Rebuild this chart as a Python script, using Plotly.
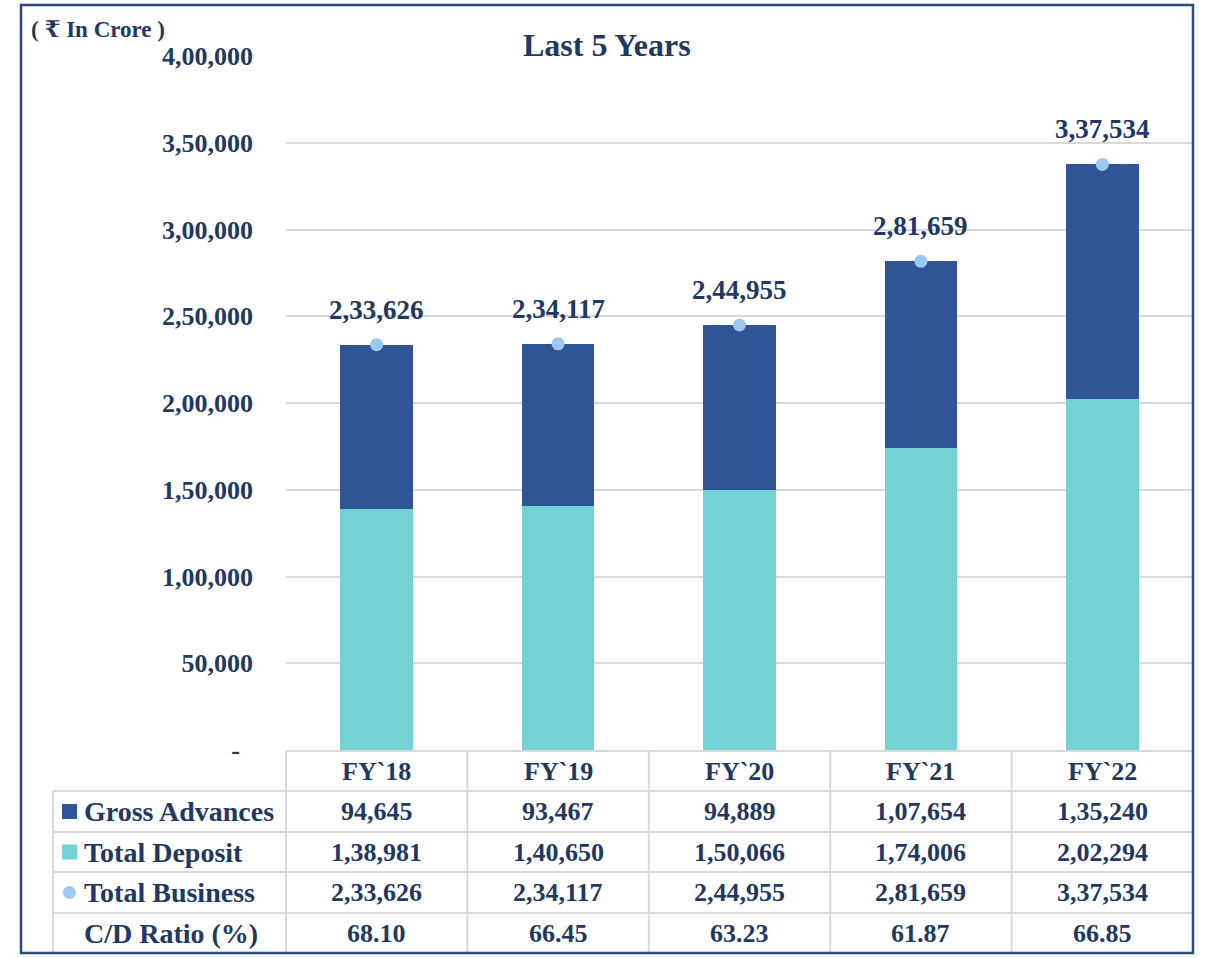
import plotly.graph_objects as go

# ---- data (₹ in crore) ----
years = ["FY`18", "FY`19", "FY`20", "FY`21", "FY`22"]
gross_advances = [94645, 93467, 94889, 107654, 135240]
total_deposit = [138981, 140650, 150066, 174006, 202294]
total_business = [233626, 234117, 244955, 281659, 337534]
cd_ratio = [68.10, 66.45, 63.23, 61.87, 66.85]
y_ticks = [0, 50000, 100000, 150000, 200000, 250000, 300000, 350000, 400000]

# ---- styling ----
W, H = 1206, 958
NAVY_TXT = "#1F3864"
BORDER = "#2E4A7D"
ADV_COL = "#2F5597"
DEP_COL = "#72D2D4"
BUS_COL = "#9DC8F0"
GRID = "#D9D9D9"
FONT = "Liberation Serif, DejaVu Serif, serif"

# plot area in pixels
PX0, PX1 = 286, 1193
PY_TOP, PY_BOT = 56, 750


def px(x):
    return x / W


def py(y):
    return 1 - y / H


def inr(v):
    """Indian digit grouping: 233626 -> 2,33,626."""
    s = str(int(round(v)))
    if len(s) <= 3:
        return s
    head, tail = s[:-3], s[-3:]
    groups = []
    while len(head) > 2:
        groups.insert(0, head[-2:])
        head = head[:-2]
    if head:
        groups.insert(0, head)
    return ",".join(groups + [tail])


tick_text = [inr(v) if v else "-\u00a0\u00a0" for v in y_ticks]

fig = go.Figure()

fig.add_trace(go.Bar(
    x=list(range(len(years))), y=total_deposit, name="Total Deposit",
    marker=dict(color=DEP_COL, line=dict(width=0)), width=0.4,
))
fig.add_trace(go.Bar(
    x=list(range(len(years))), y=gross_advances, name="Gross Advances",
    marker=dict(color=ADV_COL, line=dict(width=0)), width=0.4,
))
fig.add_trace(go.Scatter(
    x=list(range(len(years))), y=total_business, name="Total Business",
    mode="markers", marker=dict(color=BUS_COL, size=13),
))

annotations = []

# value labels above the total business markers
for i, v in enumerate(total_business):
    annotations.append(dict(
        x=i, y=v, xref="x", yref="y", text=inr(v), showarrow=False,
        yanchor="bottom", yshift=18,
        font=dict(family=FONT, size=27, color=NAVY_TXT, weight="bold"),
    ))

# title and unit
annotations.append(dict(
    x=px(607), y=py(45), xref="paper", yref="paper", text="Last 5 Years",
    showarrow=False, xanchor="center", yanchor="middle",
    font=dict(family=FONT, size=32, color=NAVY_TXT, weight="bold"),
))
annotations.append(dict(
    x=px(29), y=py(30), xref="paper", yref="paper", text="( ₹ In Crore )",
    showarrow=False, xanchor="left", yanchor="middle",
    font=dict(family=FONT, size=23, color=NAVY_TXT, weight="bold"),
))

# ---- data table below the plot ----
row_lines = [751, 791, 832, 872, 913, 953]
col_w = (PX1 - PX0) / len(years)
col_lines = [PX0 + k * col_w for k in range(len(years) + 1)]
LABEL_X0 = 53

shapes = []
# horizontal lines of the table
shapes.append(dict(type="line", xref="paper", yref="paper",
                   x0=px(PX0), x1=px(PX1), y0=py(row_lines[0]), y1=py(row_lines[0]),
                   line=dict(color=GRID, width=2)))
for yl in row_lines[1:5]:
    shapes.append(dict(type="line", xref="paper", yref="paper",
                       x0=px(LABEL_X0), x1=px(PX1), y0=py(yl), y1=py(yl),
                       line=dict(color=GRID, width=2)))
# vertical lines
for xl in col_lines[:-1]:
    shapes.append(dict(type="line", xref="paper", yref="paper",
                       x0=px(xl), x1=px(xl), y0=py(row_lines[0]), y1=py(row_lines[-1]),
                       line=dict(color=GRID, width=2)))
shapes.append(dict(type="line", xref="paper", yref="paper",
                   x0=px(LABEL_X0), x1=px(LABEL_X0), y0=py(row_lines[1]), y1=py(row_lines[-1]),
                   line=dict(color=GRID, width=2)))

row_centers = [(row_lines[k] + row_lines[k + 1]) / 2 for k in range(5)]
cell_font = dict(family=FONT, size=26, color=NAVY_TXT, weight="bold")
label_font = dict(family=FONT, size=28, color=NAVY_TXT, weight="bold")

# header row with the year labels
for i, yr in enumerate(years):
    annotations.append(dict(x=i, y=py(row_centers[0]), xref="x", yref="paper",
                            text=yr, showarrow=False, yanchor="middle",
                            font=cell_font))

table_rows = [
    ("Gross Advances", [inr(v) for v in gross_advances], "square", ADV_COL),
    ("Total Deposit", [inr(v) for v in total_deposit], "square", DEP_COL),
    ("Total Business", [inr(v) for v in total_business], "circle", BUS_COL),
    ("C/D Ratio (%)", [f"{v:.2f}" for v in cd_ratio], None, None),
]
for r, (label, vals, key, kcol) in enumerate(table_rows):
    yc = row_centers[r + 1]
    annotations.append(dict(x=px(82), y=py(yc), xref="paper", yref="paper",
                            text=label, showarrow=False, xanchor="left",
                            yanchor="middle", font=label_font))
    for i, t in enumerate(vals):
        annotations.append(dict(x=i, y=py(yc), xref="x", yref="paper",
                                text=t, showarrow=False, yanchor="middle",
                                font=cell_font))
    if key == "square":
        shapes.append(dict(type="rect", xref="paper", yref="paper",
                           x0=px(62), x1=px(77), y0=py(yc + 7.5), y1=py(yc - 7.5),
                           fillcolor=kcol, line=dict(width=0)))
    elif key == "circle":
        shapes.append(dict(type="circle", xref="paper", yref="paper",
                           x0=px(63), x1=px(76), y0=py(yc + 6.5), y1=py(yc - 6.5),
                           fillcolor=kcol, line=dict(width=0)))

# outer frame
shapes.append(dict(type="rect", xref="paper", yref="paper",
                   x0=px(21), x1=px(1193), y0=py(953), y1=py(5),
                   line=dict(color=BORDER, width=2.5), fillcolor="rgba(0,0,0,0)"))

fig.update_layout(
    width=W, height=H,
    margin=dict(l=0, r=0, t=0, b=0, pad=0, autoexpand=False),
    paper_bgcolor="white", plot_bgcolor="white",
    barmode="stack", showlegend=False,
    font=dict(family=FONT, color=NAVY_TXT),
    xaxis=dict(domain=[px(PX0), px(PX1)], range=[-0.5, len(years) - 0.5],
               showticklabels=False, showgrid=False, zeroline=False,
               showline=False, ticks="", fixedrange=True, automargin=False),
    yaxis=dict(domain=[py(PY_BOT), py(PY_TOP)], range=[0, 400000],
               tickvals=y_ticks, ticktext=tick_text,
               showgrid=True, gridcolor=GRID, gridwidth=1.5,
               zeroline=False, showline=False, ticks="",
               ticklabelstandoff=32, automargin=False,
               tickfont=dict(family=FONT, size=26, color=NAVY_TXT, weight="bold"),
               fixedrange=True),
    shapes=shapes,
    annotations=annotations,
)

fig.write_html("out.html")
